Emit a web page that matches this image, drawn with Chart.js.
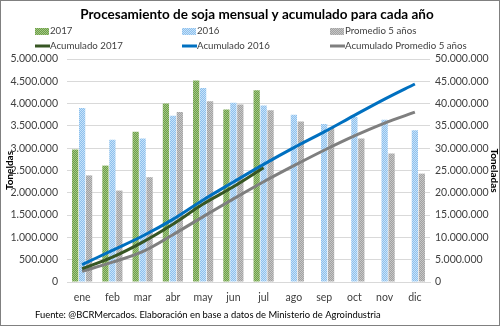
<!DOCTYPE html>
<html><head><meta charset="utf-8">
<script src="https://cdn.jsdelivr.net/npm/chart.js@4"></script>
<style>html,body{margin:0;padding:0;background:#fff;}canvas{display:block;}</style>
</head><body>
<canvas id="c" width="500" height="326"></canvas>
<script>
const months = ['ene','feb','mar','abr','may','jun','jul','ago','sep','oct','nov','dic'];
const v2017 = [2970000,2610000,3370000,4000000,4520000,3870000,4300000,null,null,null,null,null];
const v2016 = [3900000,3190000,3220000,3730000,4350000,4020000,3960000,3750000,3540000,3700000,3640000,3400000];
const vProm = [2390000,2050000,2350000,3810000,4050000,3980000,3850000,3600000,3460000,3220000,2880000,2430000];
const acum2017 = [2970000,5580000,8950000,12950000,17470000,21340000,25640000,null,null,null,null,null];
const acum2016 = [3900000,7090000,10310000,14040000,18390000,22410000,26370000,30120000,33660000,37360000,41000000,44400000];
const acumProm = [2390000,4440000,6790000,10600000,14650000,18630000,22480000,26080000,29540000,32760000,35640000,38070000];

const FONT = 'Lato, "Open Sans", sans-serif';
function pattern(c1, c2){
  const p = document.createElement('canvas'); p.width = 2; p.height = 2;
  const g = p.getContext('2d');
  g.fillStyle = c1; g.fillRect(0,0,2,2);
  g.fillStyle = c2; g.fillRect(0,0,1,1); g.fillRect(1,1,1,1);
  return document.getElementById('c').getContext('2d').createPattern(p,'repeat');
}
const pGreen = pattern('#6e9e48','#a3c886');
const pBlue = pattern('#8cc0ee','#c8e2f8');
const pGray = pattern('#a2a2a2','#c6c6c6');
const fmt = v => String(v).replace(/\B(?=(\d{3})+(?!\d))/g,'.');

const legendItems = [
  {label:'2017', type:'bar', fill:pGreen, x:35, y:31},
  {label:'2016', type:'bar', fill:pBlue, x:182, y:31},
  {label:'Promedio 5 años', type:'bar', fill:pGray, x:330, y:31},
  {label:'Acumulado 2017', type:'line', color:'#375623', x:35, y:46},
  {label:'Acumulado 2016', type:'line', color:'#0070c0', x:182, y:46},
  {label:'Acumulado Promedio 5 años', type:'line', color:'#7f7f7f', x:330, y:46}
];

const deco = {
  id:'deco',
  afterDraw(chart){
    const ctx = chart.ctx;
    ctx.save();
    ctx.fillStyle = '#000';
    ctx.font = 'bold 13.5px ' + FONT;
    ctx.textAlign = 'center'; ctx.textBaseline = 'middle';
    ctx.fillText('Procesamiento de soja mensual y acumulado para cada año', 257, 15);
    ctx.font = '9.7px ' + FONT;
    ctx.textAlign = 'left';
    legendItems.forEach(it => {
      if (it.type === 'bar') { ctx.fillStyle = it.fill; ctx.fillRect(it.x, it.y-3, 14, 7); }
      else { ctx.strokeStyle = it.color; ctx.lineWidth = 3; ctx.beginPath(); ctx.moveTo(it.x, it.y); ctx.lineTo(it.x+15, it.y); ctx.stroke(); }
      ctx.fillStyle = '#404040';
      ctx.fillText(it.label, it.x+15, it.y);
    });
    ctx.fillStyle = '#000';
    ctx.font = '9.4px ' + FONT;
    ctx.fillText('Fuente: @BCRMercados. Elaboración en base a datos de Ministerio de Agroindustria', 35, 315);
    ctx.strokeStyle = '#808080'; ctx.lineWidth = 1;
    ctx.strokeRect(0.5,0.5,499,325);
    ctx.restore();
  }
};

const barCommon = {type:'bar', yAxisID:'y', order:1, categoryPercentage:0.69, barPercentage:0.9};
const lineCommon = {type:'line', yAxisID:'y1', order:0, borderWidth:3, pointRadius:0, tension:0.35, fill:false};

new Chart(document.getElementById('c'), {
  data:{
    labels: months,
    datasets:[
      Object.assign({label:'2017', data:v2017, backgroundColor:pGreen}, barCommon),
      Object.assign({label:'2016', data:v2016, backgroundColor:pBlue}, barCommon),
      Object.assign({label:'Promedio 5 años', data:vProm, backgroundColor:pGray}, barCommon),
      Object.assign({label:'Acumulado 2017', data:acum2017, borderColor:'#375623'}, lineCommon),
      Object.assign({label:'Acumulado 2016', data:acum2016, borderColor:'#0070c0'}, lineCommon),
      Object.assign({label:'Acumulado Promedio 5 años', data:acumProm, borderColor:'#7f7f7f'}, lineCommon)
    ]
  },
  options:{
    responsive:false, animation:false,
    layout:{padding:{top:59,left:0,right:0,bottom:0}},
    plugins:{legend:{display:false}, tooltip:{enabled:false}, title:{display:false}},
    scales:{
      x:{
        grid:{display:false, drawTicks:false},
        border:{display:true, color:'#d9d9d9'},
        ticks:{color:'#404040', font:{family:FONT, size:10.5}, padding:9, maxRotation:0},
        afterFit(s){ s.height = 44; }
      },
      y:{
        position:'left', min:0, max:5000000,
        ticks:{stepSize:500000, color:'#404040', font:{family:FONT, size:10.5}, padding:9, callback:v=>fmt(v)},
        grid:{color:'#d9d9d9', drawTicks:false},
        border:{display:false},
        title:{display:true, text:'Toneldas', color:'#000', font:{family:FONT, size:10, weight:'bold'}, padding:{top:4,bottom:0}},
        afterFit(s){ s.width = 67; }
      },
      y1:{
        position:'right', min:0, max:50000000,
        ticks:{stepSize:5000000, color:'#404040', font:{family:FONT, size:10.5}, padding:5, callback:v=>fmt(v)},
        grid:{display:false, drawTicks:false},
        border:{display:false},
        title:{display:true, text:'Toneladas', color:'#000', font:{family:FONT, size:10, weight:'bold'}, padding:{top:0,bottom:1}},
        afterFit(s){ s.width = 70; }
      }
    }
  },
  plugins:[deco]
});
</script>
</body></html>
